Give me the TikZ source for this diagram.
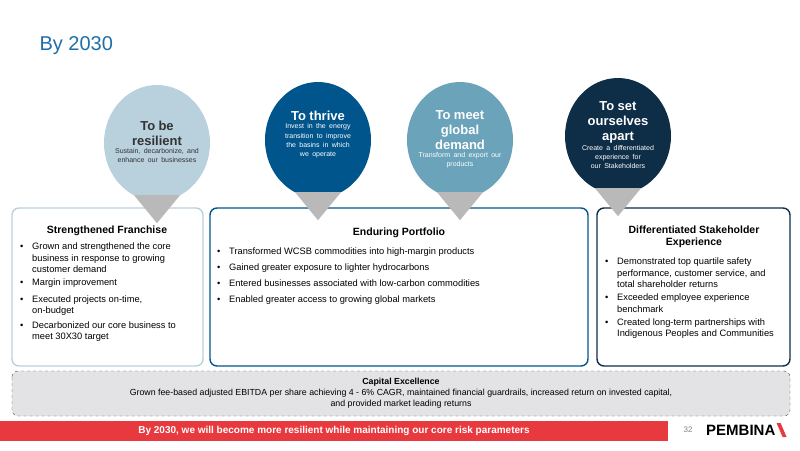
\documentclass[tikz,border=0pt]{standalone}
\usepackage{fontspec}
\setmainfont{Liberation Sans}
\usetikzlibrary{positioning,shapes.geometric}
\definecolor{titleblue}{HTML}{1F6EA8}
\definecolor{paleblue}{HTML}{B9D0DD}
\definecolor{midblue}{HTML}{00558C}
\definecolor{tealblue}{HTML}{6BA3BA}
\definecolor{navyblue}{HTML}{0E2D47}
\definecolor{barred}{HTML}{E8393F}
\definecolor{boxgray}{HTML}{E3E3E5}
\tikzset{
  goal/.style={ellipse,minimum width=106pt,minimum height=116pt,inner sep=0pt,text width=70pt,align=center},
  pointer/.style={fill=gray!55,draw=none},
  pillar/.style={rounded corners=7pt,line width=1.4pt},
  head/.style={font=\bfseries\fontsize{10.5}{12.5}\selectfont,align=center},
  bullets/.style={font=\fontsize{9.3}{11.5}\selectfont,align=left,anchor=north west,inner sep=0pt},
}
\newcommand{\gtitle}[1]{{\bfseries\fontsize{13}{15}\selectfont #1\par}}
\newcommand{\gsub}[1]{{\fontsize{7}{8.4}\selectfont\makebox[\linewidth]{\renewcommand{\arraystretch}{1.08}\begin{tabular}[t]{@{}c@{}}#1\end{tabular}}\par}}
\newcommand{\itm}[2][]{\makebox[12pt][l]{\textbullet}\parbox[t]{#2}{\raggedright\hyphenpenalty=10000 #1}}
\begin{document}
\begin{tikzpicture}[x=1pt,y=-1pt]
\useasboundingbox (0,0) rectangle (800,450);
\node[anchor=west,text=titleblue,font=\fontsize{20}{22}\selectfont] (title) at (36,46) {By 2030};
% pillars
\draw[pillar,draw=paleblue] (12,208) rectangle (203,366);
\draw[pillar,draw=midblue] (210,208) rectangle (588,366);
\draw[pillar,draw=navyblue] (597,208) rectangle (790,366);
% goals
\node[goal,fill=paleblue,text=black!80] (resil) at (157,143) {\gtitle{To be\\resilient}\gsub{Sustain, decarbonize, and\\enhance our businesses}};
\node[goal,fill=midblue,text=white] (thrive) at (318,140) {\gtitle{To thrive}\gsub{Invest in the energy\\transition to improve\\the basins in which\\we operate}\vspace{10pt}};
\node[goal,fill=tealblue,text=white] (demand) at (460,140) {\gtitle{To meet\\global\\demand}\gsub{Transform and export our\\products}};
\node[goal,fill=navyblue,text=white] (apart) at (618,136) {\gtitle{To set\\ourselves\\apart}\gsub{Create a differentiated\\experience for\\our Stakeholders}};
\foreach \g in {resil,thrive,demand,apart}
  \fill[pointer] ([xshift=-23pt]\g.south) ++(0,-6) -- ++(46,0) -- ([yshift=-22pt]\g.south) -- cycle;
% pillar texts
\node[head] (franchise) at (107,231) {Strengthened Franchise};
\node[bullets] (franlist) at (20,243) {\itm[Grown and strengthened the core business in response to growing customer demand]{158pt}\\[5pt]
\itm[Margin improvement]{158pt}\\[5pt]
\itm[Executed projects on-time, on-budget]{150pt}\\[5pt]
\itm[Decarbonized our core business to meet 30X30 target]{158pt}};
\node[head] (portfolio) at (399,233) {Enduring Portfolio};
\node[bullets] (portlist) at (217,248) {\itm[Transformed WCSB commodities into high-margin products]{340pt}\\[4.5pt]
\itm[Gained greater exposure to lighter hydrocarbons]{340pt}\\[4.5pt]
\itm[Entered businesses associated with low-carbon commodities]{340pt}\\[4.5pt]
\itm[Enabled greater access to growing global markets]{340pt}};
\node[head] (stake) at (694,237) {Differentiated Stakeholder\\Experience};
\node[bullets] (stakelist) at (605,258) {\itm[Demonstrated top quartile safety performance, customer service, and total shareholder returns]{162pt}\\[5pt]
\itm[Exceeded employee experience benchmark]{162pt}\\[5pt]
\itm[Created long-term partnerships with Indigenous Peoples and Communities]{162pt}};
% capital excellence
\draw[fill=boxgray,draw=black!70,dashed,rounded corners=6pt] (12,371) rectangle (790,416);
\node[align=center,font=\fontsize{8.8}{11}\selectfont] (capital) at (401,393) {\textbf{Capital Excellence}\\Grown fee-based adjusted EBITDA per share achieving 4 - 6\% CAGR, maintained financial guardrails, increased return on invested capital,\\and provided market leading returns};
% bottom bar
\fill[barred] (0,421) rectangle (668,441);
\node[text=white,font=\bfseries\fontsize{10}{12}\selectfont] (message) at (334,431) {By 2030, we will become more resilient while maintaining our core risk parameters};
\node[text=gray,font=\fontsize{8}{10}\selectfont] (page) at (688,430) {32};
\node[font=\bfseries\fontsize{15}{16}\selectfont,anchor=west,inner sep=0pt] (logo) at (706,430) {PEMBINA};
\fill[barred] (logo.east) ++(1,-7) -- ++(4,0) -- ++(6,14) -- ++(-4,0) -- cycle;
\end{tikzpicture}
\end{document}
